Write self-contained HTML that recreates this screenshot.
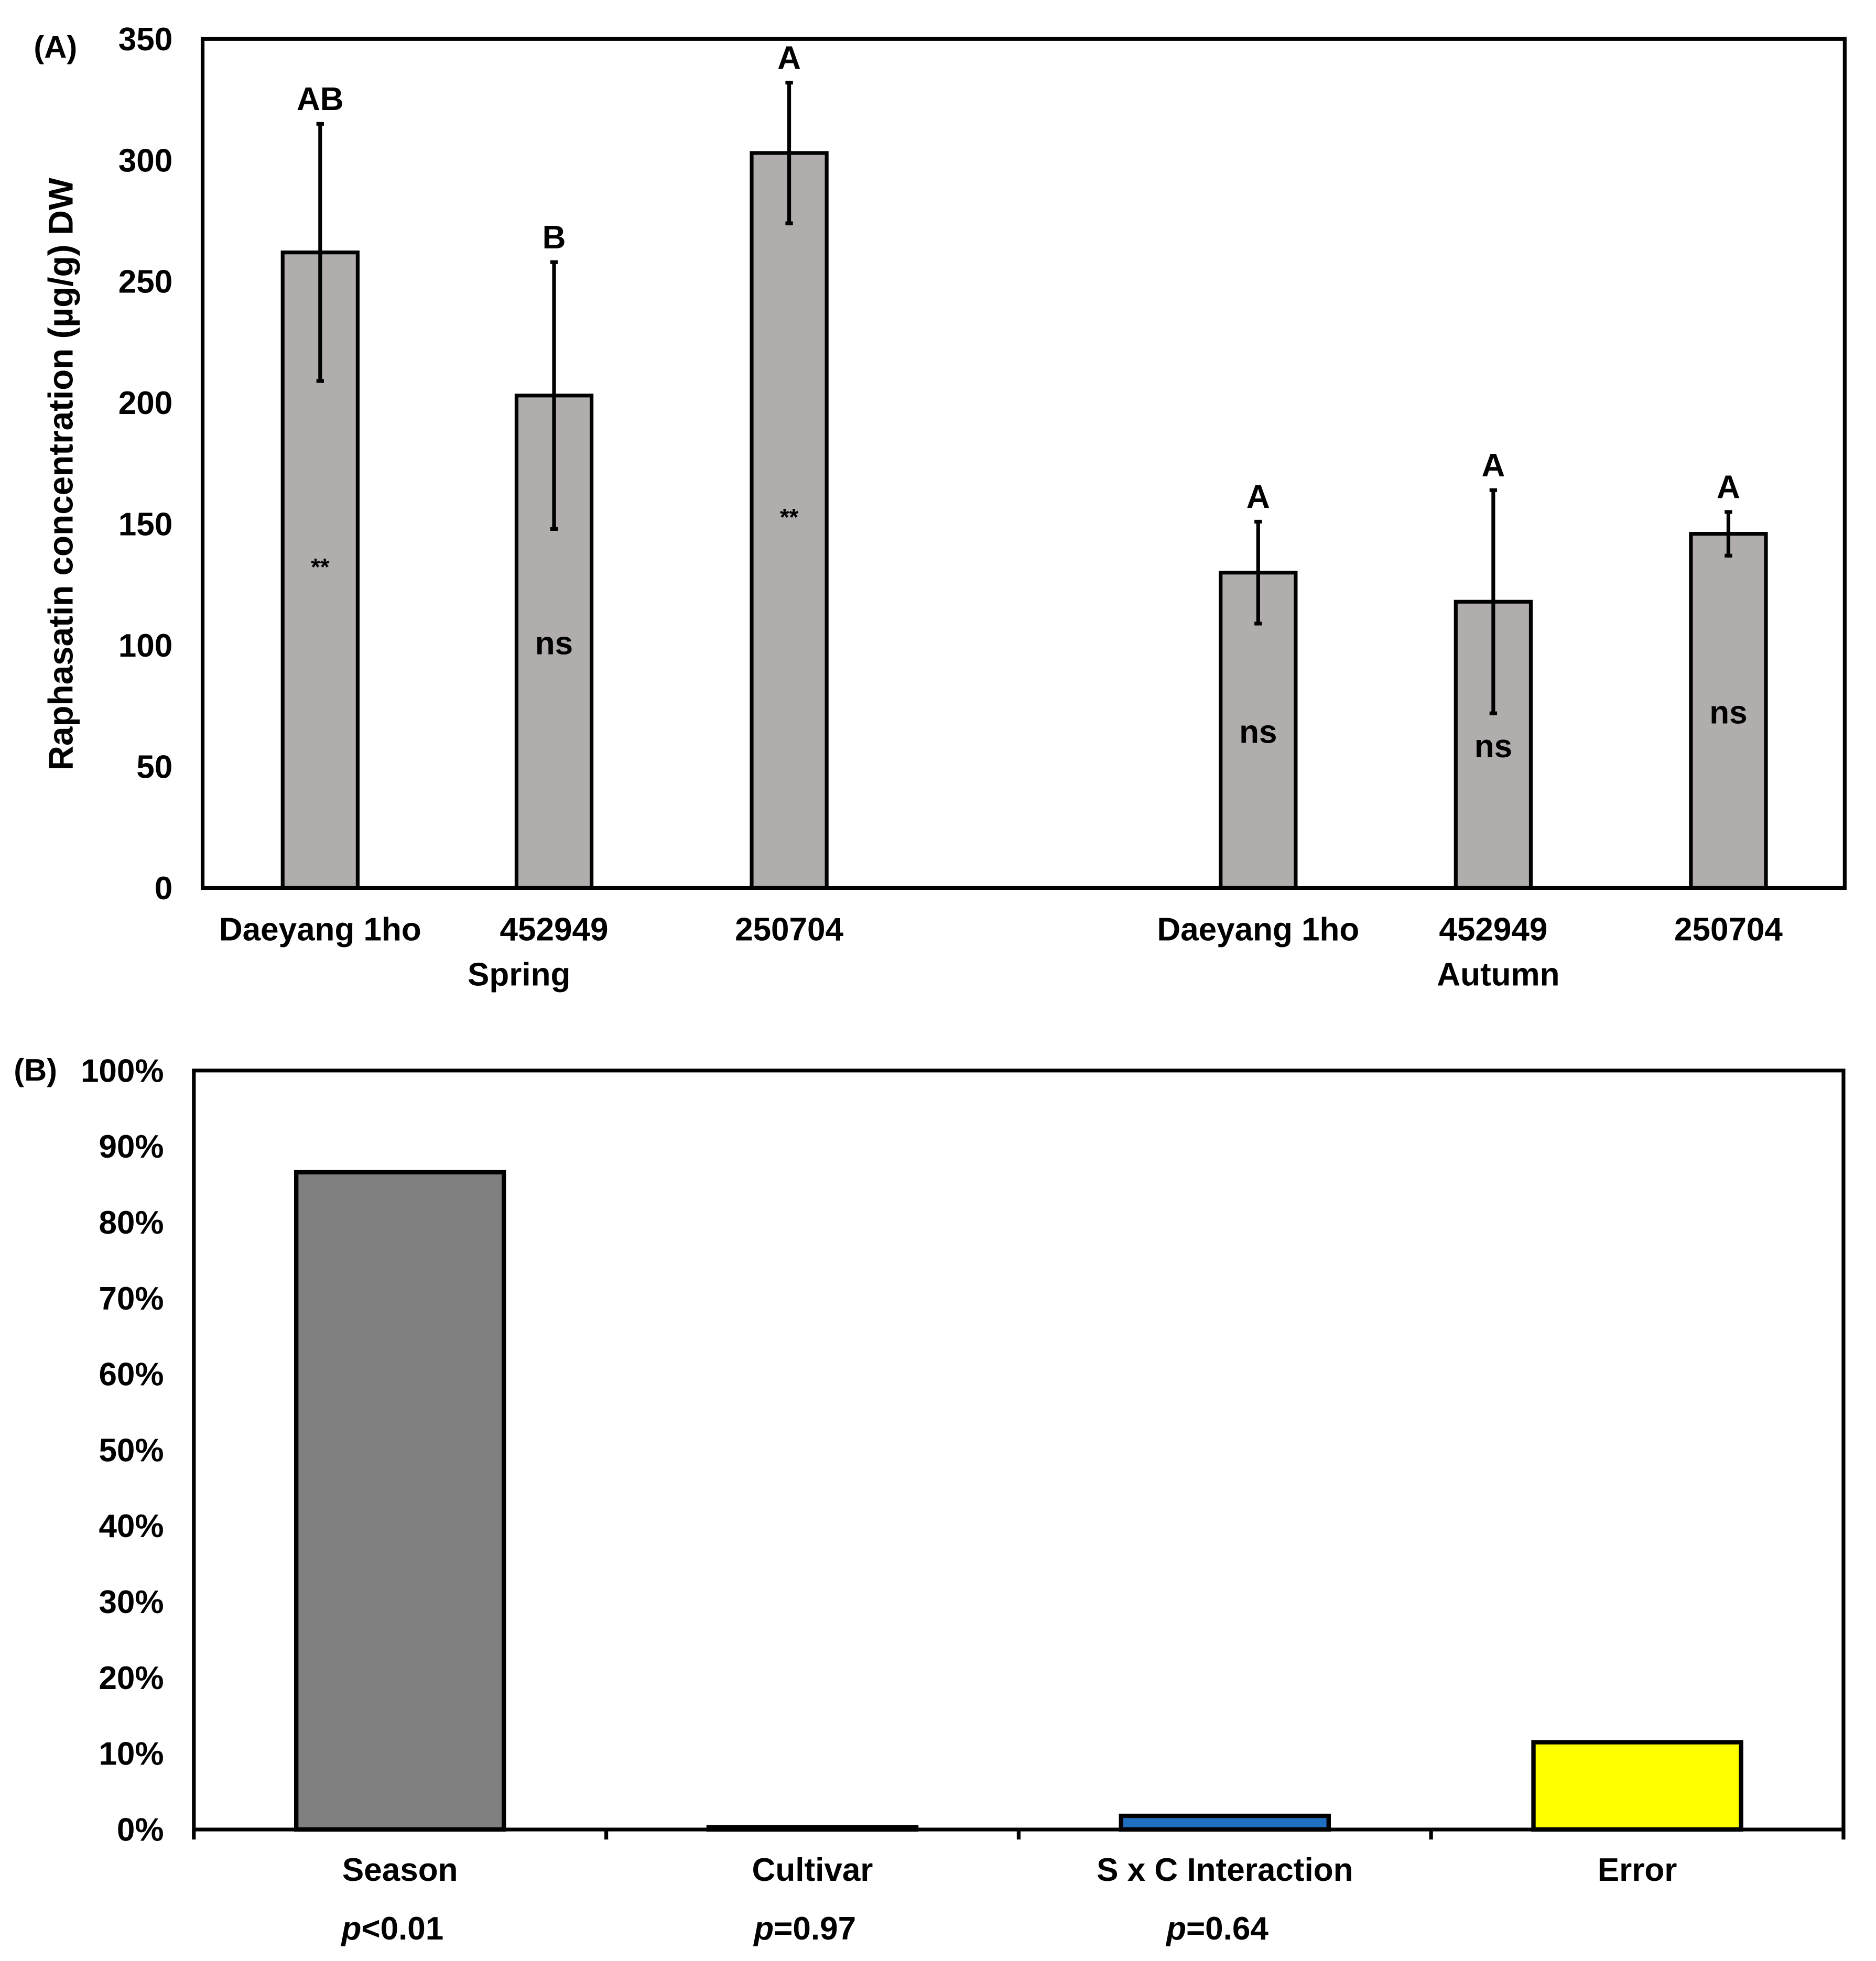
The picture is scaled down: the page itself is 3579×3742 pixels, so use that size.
<!DOCTYPE html>
<html><head><meta charset="utf-8"><style>
html,body{margin:0;padding:0;background:#fff}
svg{display:block}
text{font-family:"Liberation Sans",Arial,sans-serif;font-weight:bold;fill:#000}
</style></head><body>
<svg id="chart" width="3579" height="3742" viewBox="0 0 1500 1568" xmlns="http://www.w3.org/2000/svg">
<g id="a"></g>
<g id="b"></g>
</svg>
<script>
// Panel A data
const catsA = ["Daeyang 1ho","452949","250704","Daeyang 1ho","452949","250704"];
const valsA = [262, 203, 303, 130, 118, 146];
const errsA = [53, 55, 29, 21, 46, 9];
const lettersA = ["AB","B","A","A","A","A"];
const innerA = ["**","ns","**","ns","ns","ns"];
const ticksA = [0,50,100,150,200,250,300,350];
// Panel B data
const catsB = ["Season","Cultivar","S x C Interaction","Error"];
const pvalsB = ["<0.01","=0.97","=0.64",""];
const valsB = [86.6, 0.3, 1.8, 11.5];
const colorsB = ["#808080","#d9d9d9","#1f6fc0","#ffff00"];
const ticksB = [0,10,20,30,40,50,60,70,80,90,100];

const NS="http://www.w3.org/2000/svg";
function mk(parent, tag, attrs, txt){const e=document.createElementNS(NS,tag);for(const k in attrs)e.setAttribute(k,attrs[k]);if(txt!==undefined)e.textContent=txt;parent.appendChild(e);return e;}
const FS=26;

// Panel A
const A=document.getElementById('a');
const aL=162,aR=1475,aT=31,aB=710;
const yA=v=>aB-(v/350)*(aB-aT);
const xA=i=>[256,443,631,1006,1194,1382][i];
let t=mk(A,'text',{x:27,y:46,'font-size':25},'(A)');


ticksA.forEach(v=>{
  const tt=mk(A,'text',{x:138,y:yA(v)+9,'font-size':FS,'text-anchor':'end'},v);
  
  
});
t=mk(A,'text',{x:0,y:0,'font-size':27.5,'text-anchor':'middle',transform:'translate(58,379) rotate(-90)'},'Raphasatin concentration (µg/g) DW');


valsA.forEach((v,i)=>{
  const cx=xA(i);
  const r=mk(A,'rect',{x:cx-30,y:yA(v),width:60,height:aB-yA(v),fill:'#b0adac',stroke:'#000','stroke-width':3});
  
  
  const eb=mk(A,'path',{d:`M${cx},${yA(v+errsA[i])}V${yA(v-errsA[i])}M${cx-3},${yA(v+errsA[i])}h6M${cx-3},${yA(v-errsA[i])}h6`,stroke:'#000','stroke-width':3,fill:'none'});
  
  
  const lt=mk(A,'text',{x:cx,y:yA(v+errsA[i])-11,'font-size':FS,'text-anchor':'middle'},lettersA[i]);
  
  
  const it=mk(A,'text',{x:cx,y:yA(v*0.5)+(innerA[i]==='**'?4:10),'font-size':innerA[i]==='**'?19:FS,'text-anchor':'middle'},innerA[i]);
  
  
  const xl=mk(A,'text',{x:cx,y:752,'font-size':FS,'text-anchor':'middle'},catsA[i]);
  
  
});
let box=mk(A,'rect',{x:aL,y:aT,width:aR-aL,height:aB-aT,fill:'none',stroke:'#000','stroke-width':3});


t=mk(A,'text',{x:415,y:788,'font-size':FS,'text-anchor':'middle'},'Spring');


t=mk(A,'text',{x:1198,y:788,'font-size':FS,'text-anchor':'middle'},'Autumn');



// Panel B
const B=document.getElementById('b');
const bL=155,bR=1474,bT=856,bB=1463;
const yB=v=>bB-(v/100)*(bB-bT);
const bw=(bR-bL)/catsB.length;
const xB=i=>bL+bw*(i+0.5);
t=mk(B,'text',{x:11,y:864,'font-size':25},'(B)');


ticksB.forEach(v=>{
  const tt=mk(B,'text',{x:131,y:yB(v)+9,'font-size':FS,'text-anchor':'end'},v+'%');
  
  
});
valsB.forEach((v,i)=>{
  const cx=xB(i);
  const r=mk(B,'rect',{x:cx-83,y:yB(v),width:166,height:bB-yB(v),fill:colorsB[i],stroke:'#000','stroke-width':3.5});
  
  
  const xl=mk(B,'text',{x:cx,y:1504,'font-size':FS,'text-anchor':'middle'},catsB[i]);
  
  
  if(pvalsB[i]){
    const pt=mk(B,'text',{x:cx-6,y:1551,'font-size':FS,'text-anchor':'middle'});
    
    
    mk(pt,'tspan',{'font-style':'italic'},'p');
    mk(pt,'tspan',{},pvalsB[i]);
  }
});
for(let i=0;i<=catsB.length;i++){
  const tk=mk(B,'line',{x1:bL+bw*i,x2:bL+bw*i,y1:bB,y2:bB+8,stroke:'#000','stroke-width':3});
  
  
}
box=mk(B,'rect',{x:bL,y:bT,width:bR-bL,height:bB-bT,fill:'none',stroke:'#000','stroke-width':3});


</script>
</body></html>
